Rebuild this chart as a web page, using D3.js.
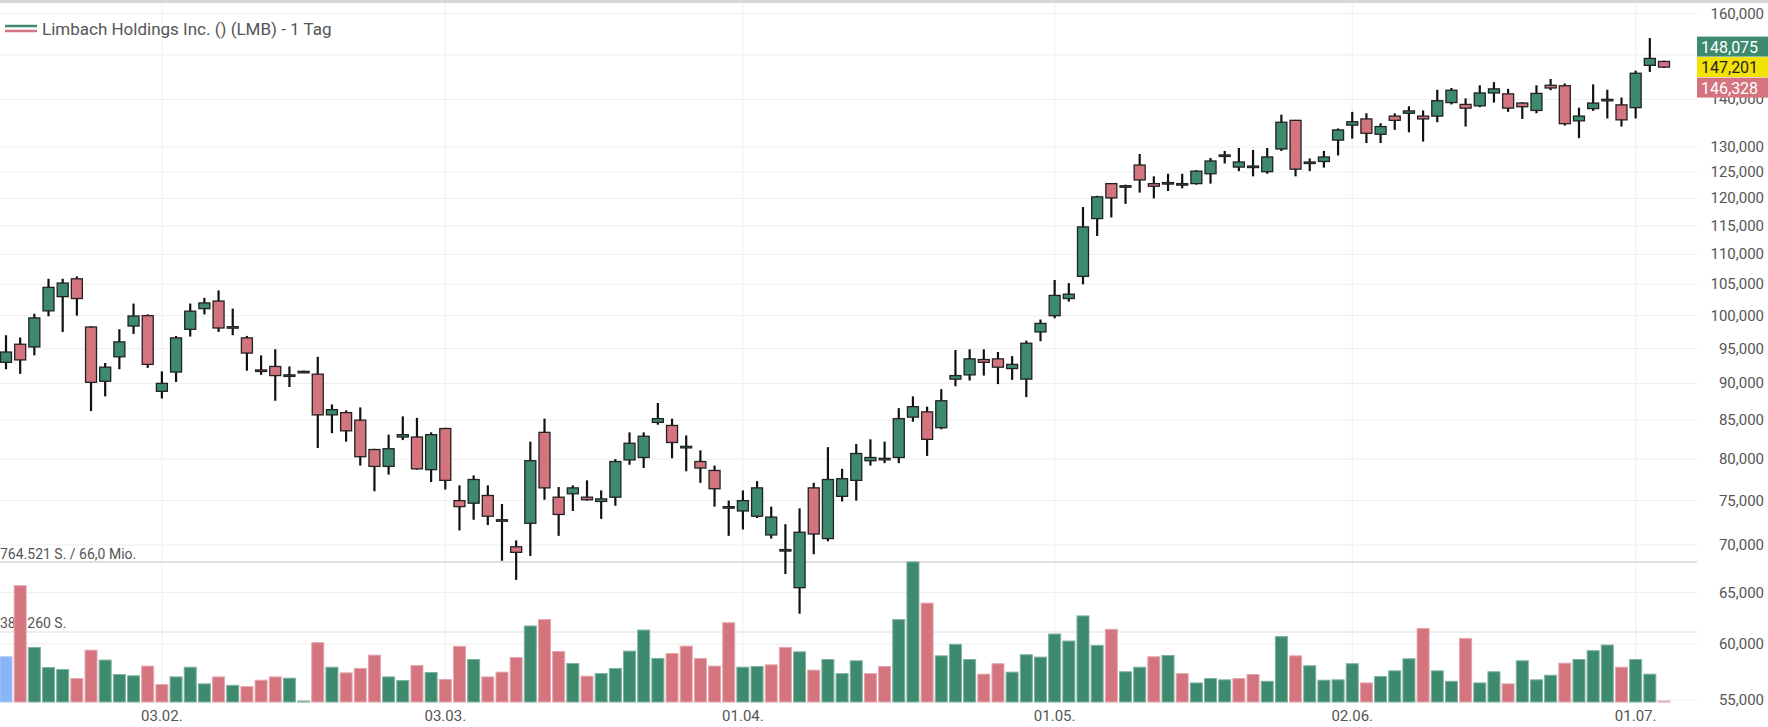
<!DOCTYPE html>
<html><head><meta charset="utf-8">
<script src="https://cdn.jsdelivr.net/npm/d3@7"></script>
<style>body{margin:0;background:#fff;font-family:Roboto,"Open Sans",Arial,sans-serif}</style>
</head><body><svg id="c" width="1768" height="727"></svg>
<script>
const title = "Limbach Holdings Inc. () (LMB) - 1 Tag";
const opens  = [93,95.65,95.25,100.75,103,105.9,98.25,90.3,93.8,98.4,100,88.9,91.6,97.9,101.1,102.3,98.3,96.6,91.9,92.4,91.2,91.7,91.3,85.7,86,85,81.2,79.1,82.8,82.8,78.7,83.9,75,74.7,75.6,72.8,69.8,72.4,83.4,75.4,75.8,75.4,74.9,75.4,79.9,80.2,84.7,84.3,81.6,79.7,78.6,74.3,73.8,73.2,71.1,69.5,65.5,76.5,70.7,75.5,77.4,79.8,80.1,80.2,85.4,86.1,84,90.6,91.2,93.4,93.5,92.1,90.6,97.5,100,102.7,106.3,116.3,122.8,122.4,126.4,122.8,123,122.8,122.8,124.7,128.4,126,126.2,125.1,129.6,135.5,127,127.1,131.4,134.5,135.8,132.6,136.4,137,136.4,136.4,139.3,138.9,138.6,141.4,141.2,139.2,137.6,143.1,143,135.4,138,140,138.8,138.2,147.6,148.5];
const highs  = [97,96.65,100.3,105.9,105.9,106.3,98.4,92.9,97.9,101.9,100.2,91.7,96.9,101.9,102.8,104,101.1,96.9,94,94.9,92.4,91.8,93.8,87.1,86.3,86.7,81.3,83.1,85.5,85.3,83.4,84,76.8,78,76.8,74.6,70.5,82.2,85.2,76.6,76.8,77.4,76.2,80,83.4,83.4,87.3,85.2,83,81.1,79.2,75,76.2,77.3,74.3,72.3,74.1,77.1,81.5,78.8,81.9,82.5,82.2,86.6,88.2,86.8,89.2,94.8,94.9,94.9,94.5,93.9,96.2,99.4,105.7,105.2,118.4,120.5,122.9,122.6,128.6,124.2,124.7,124.7,125.4,127.8,129.2,129.8,129.4,129.8,136.7,135.6,127.7,129.2,133.8,137.3,137,134.9,137,138.5,137.6,142.1,142.5,140.2,143.1,143.8,142.3,139.4,143.1,144.5,143.5,138.2,143.3,142.1,140.4,146.4,154,148.7];
const lows   = [92,91.35,94,99.9,97.5,100,86.2,88.2,92,97.2,92.2,87.9,90.2,96.8,100.2,97.5,97,91.8,91.2,87.6,89.5,91.6,81.4,83.3,82.2,79.2,76.1,78.1,82.4,78.7,77.2,76.3,71.6,72.8,72.2,68.3,66.3,68.8,75.1,71,73.8,75,72.9,74.4,79.3,78.9,84.4,80.1,78.5,77.1,74.3,71,71.7,73,70.7,66.9,62.9,69,70.4,74.9,75,79.2,79.5,79.5,84.8,80.4,83.8,89.6,90.4,91.1,89.9,90.5,88.1,96.1,99.6,102.2,105,113.2,116.5,119,121.1,120,121.4,121.9,122.6,122.8,126.7,125.2,124.2,124.7,129.2,124.2,125.2,125.9,128.3,131.7,130.8,130.8,133.5,133,131.1,135.1,138.9,134.2,138.3,139.3,137.3,135.8,137,142,134.4,131.8,137.5,135.9,134.2,135.9,146.1,147];
const closes = [94.5,93.35,99.65,104.5,105.2,102.7,90.15,92.3,96,99.95,92.7,90,96.6,100.7,102,98.1,98.2,94.35,91.8,91.1,91.2,91.7,85.7,86.4,83.6,80.3,79.1,81.3,83.1,78.8,83.1,77.4,74.3,77.5,73.2,72.7,69.2,79.8,76.5,73.4,76.5,75.1,75.2,79.7,82,82.9,85.2,82.1,81.6,78.9,76.4,74.3,75,76.5,73.1,69.5,71.4,71.2,77.5,77.6,80.7,80.2,80.1,85.2,86.8,82.5,87.6,91.1,93.5,93,92.3,92.7,95.8,98.8,103.2,103.4,114.8,120.3,120.1,122.4,123.5,122.3,123,122.8,125.2,127.2,128.4,127,126.2,128,135.1,125.6,127,128,133.5,135.2,132.8,134.2,135.5,137.5,135.8,139.7,142,138.1,141.4,142.3,138.1,138.4,141.3,142.5,134.8,136.4,139.2,140,135.6,145.8,149.2,147.2];
const volumes = [247,635,298,188,177,128,283,229,150,143,196,95,137,190,99,137,91,84,119,137,130,5,324,190,159,183,256,137,117,199,161,123,304,232,137,163,243,415,450,276,210,141,155,183,278,393,238,265,305,238,196,433,190,194,203,298,274,174,232,155,225,155,194,450,765,540,252,315,232,152,209,163,258,245,371,333,470,309,397,165,190,247,254,155,104,128,121,128,150,113,357,252,198,119,121,209,104,139,170,236,401,170,113,346,104,165,99,225,121,146,212,232,280,311,190,232,152,5];
const dateLabels = ["03.02.","03.03.","01.04.","01.05.","02.06.","01.07."];
const dateIndex  = [11,31,52,74,95,115];
const priceTicks = [160000,150000,140000,130000,125000,120000,115000,110000,105000,100000,95000,90000,85000,80000,75000,70000,65000,60000,55000];
const priceLabels = [160000,140000,130000,125000,120000,115000,110000,105000,100000,95000,90000,85000,80000,75000,70000,65000,60000,55000];
const badges = [{label:"148,075",value:148075,c:"green"},{label:"147,201",value:147201,c:"yellow"},{label:"146,328",value:146328,c:"red"}];
const volMaxLabel = "764.521 S. / 66,0 Mio.";
const volMidLabel = "382.260 S.";
const volMax = 764.521;

const G="#3d8a6e", R="#d4747f";
const svg=d3.select("#c");
const n=opens.length;
const x=d3.scaleLinear().domain([0,n-1]).range([6,1664]);
const y=d3.scaleLog().domain([55000,160000]).range([700,13.5]);
const yv=d3.scaleLinear().domain([0,volMax]).range([702,562]);
const plotR=1697;

svg.append("rect").attr("x",0).attr("y",0).attr("width",1768).attr("height",3).attr("fill","#d6d6dc");
svg.append("g").selectAll("line").data(priceTicks).join("line")
 .attr("x1",0).attr("x2",plotR).attr("y1",d=>y(d)).attr("y2",d=>y(d)).attr("stroke","#eeeeee");
svg.append("g").selectAll("line").data(dateIndex).join("line")
 .attr("x1",d=>x(d)).attr("x2",d=>x(d)).attr("y1",3).attr("y2",703).attr("stroke","#efefef");
svg.append("g").selectAll("text").data(priceLabels).join("text")
 .attr("x",1764).attr("y",d=>y(d)+5).attr("text-anchor","end").attr("font-size",15).attr("fill","#555")
 .text(d=>d3.format(",")(d));
svg.append("line").attr("x1",0).attr("x2",plotR).attr("y1",562).attr("y2",562).attr("stroke","#d5d5da").attr("stroke-width",1.5);
svg.append("line").attr("x1",0).attr("x2",plotR).attr("y1",yv(volMax/2)).attr("y2",yv(volMax/2)).attr("stroke","#dcdce0");
svg.append("text").attr("x",0).attr("y",559).attr("font-size",14).attr("fill","#555").text(volMaxLabel);
svg.append("text").attr("x",0).attr("y",yv(volMax/2)-4).attr("font-size",14).attr("fill","#555").text(volMidLabel);
svg.append("g").selectAll("rect").data(volumes).join("rect")
 .attr("x",(d,i)=>x(i)-6).attr("width",12)
 .attr("y",d=>yv(d)).attr("height",d=>702-yv(d))
 .attr("fill",(d,i)=>i===0?"#8ab4f8":(closes[i]>=closes[i-1]?G:R))
 .attr("stroke",(d,i)=>i===0?"#a9c7f8":(closes[i]>=closes[i-1]?"#7fb19e":"#e3a7ae")).attr("stroke-width",1);
svg.append("g").selectAll("text").data(dateLabels).join("text")
 .attr("x",(d,i)=>x(dateIndex[i])).attr("y",721).attr("text-anchor","middle").attr("font-size",15).attr("fill","#555").text(d=>d);
const idx=d3.range(n);
const cg=svg.append("g");
cg.selectAll("line").data(idx).join("line")
 .attr("x1",i=>x(i)).attr("x2",i=>x(i)).attr("y1",i=>y(highs[i]*1000)).attr("y2",i=>y(lows[i]*1000))
 .attr("stroke","#111").attr("stroke-width",2.2);
cg.selectAll("rect").data(idx).join("rect")
 .attr("x",i=>x(i)-5.5).attr("width",11)
 .attr("y",i=>y(Math.max(opens[i],closes[i])*1000))
 .attr("height",i=>Math.max(1.5,Math.abs(y(opens[i]*1000)-y(closes[i]*1000))))
 .attr("fill",i=>closes[i]>=opens[i]?G:R).attr("stroke","#222").attr("stroke-width",1.3);
const yc=y(badges[1].value);
const bcol={green:[G,"#fff"],yellow:["#f2e205","#222"],red:[R,"#fff"]};
badges.forEach((b,k)=>{
  const cy=yc+(k-1)*20.5;
  svg.append("rect").attr("x",1697).attr("y",cy-10).attr("width",71).attr("height",20).attr("fill",bcol[b.c][0]);
  svg.append("text").attr("x",1701).attr("y",cy+6).attr("font-size",16).attr("fill",bcol[b.c][1]).text(b.label);
});
svg.append("line").attr("x1",5).attr("x2",37).attr("y1",26).attr("y2",26).attr("stroke",G).attr("stroke-width",2.5);
svg.append("line").attr("x1",5).attr("x2",37).attr("y1",31).attr("y2",31).attr("stroke",R).attr("stroke-width",2.5);
svg.append("text").attr("x",42).attr("y",35).attr("font-size",17).attr("fill","#555").text(title);
</script></body></html>
